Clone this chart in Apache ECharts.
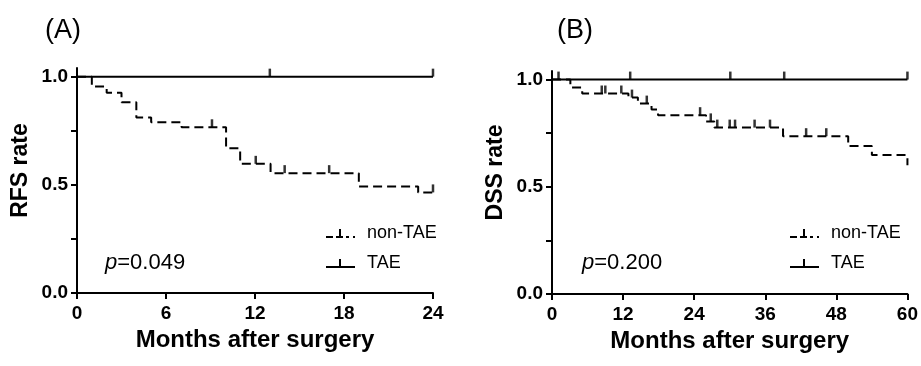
<!DOCTYPE html>
<html><head><meta charset="utf-8">
<script src="https://cdn.jsdelivr.net/npm/echarts@6/dist/echarts.min.js"></script>
<style>html,body{margin:0;padding:0;background:#fff}#c{width:921px;height:366px}</style>
</head><body><div id="c"></div>
<script>
// ---- Panel A: RFS (months 0-24)
const rfsTime = [0, 1.0, 2.0, 3.0, 4.0, 5.0, 7.05, 10.05, 11.0, 13.05, 19.0, 23.0, 24.0];
const rfsNonTAE = [1, 0.954, 0.926, 0.882, 0.811, 0.789, 0.766, 0.669, 0.597, 0.554, 0.492, 0.465, 0.465];
const rfsNonTAECensor = [9.1, 12.05, 14.0, 17.0, 24.0];
const rfsTAETime = [0, 24];
const rfsTAE = [1, 1];
const rfsTAECensor = [13.0, 24.0];
const rfsXTicks = [0, 6, 12, 18, 24];
// ---- Panel B: DSS (months 0-60)
const dssTime = [0, 3.1, 5.1, 12.9, 14.5, 16.8, 17.9, 26.0, 27.4, 39.0, 50.0, 54.0, 60.0];
const dssNonTAE = [1, 0.963, 0.935, 0.916, 0.888, 0.860, 0.834, 0.805, 0.776, 0.736, 0.690, 0.648, 0.601];
const dssNonTAECensor = [8.4, 9.0, 11.7, 13.5, 16.0, 25.0, 26.8, 27.9, 30.0, 30.9, 34.2, 36.8, 42.9, 46.3];
const dssTAETime = [0, 60];
const dssTAE = [1, 1];
const dssTAECensor = [1.1, 13.2, 30.1, 39.2, 60];
const dssXTicks = [0, 12, 24, 36, 48, 60];
const yTicks = [0, 0.25, 0.5, 0.75, 1.0];
const yLabels = [0, 0.5, 1.0];
const pValues = ['0.049', '0.200'];

function pairs(t, v) { return t.map((x, i) => [x, v[i]]); }
function stepAt(t, v, x) { let s = v[0]; for (let i = 0; i < t.length; i++) { if (t[i] <= x) s = v[i]; } return s; }
function censorPts(t, v, cs) { return cs.map(c => [c, stepAt(t, v, c)]); }

const dashIcon = 'path://M0,0L0,0ZM0,9L7,9L7,11L0,11ZM10,9L13,9L13,2L15,2L15,9L17,9L17,11L10,11ZM20,9L23,9L23,11L20,11ZM27,9L29,9L29,11L27,11ZM36,12L36,12Z';
const solidIcon = 'path://M0,0L0,0ZM0,9L13,9L13,2L15,2L15,9L29,9L29,11L0,11ZM36,12L36,12Z';

const black = '#000';
const FONT = 'Liberation Sans';
function xAxis(gi, max, interval) {
  return {
    gridIndex: gi, type: 'value', min: 0, max: max, interval: interval,
    axisLine: { show: true, onZero: false, lineStyle: { color: black, width: 2 } },
    axisTick: { show: true, length: 6, lineStyle: { color: black, width: 2 } },
    splitLine: { show: false },
    axisLabel: { color: black, fontFamily: FONT, fontWeight: 'bold', fontSize: 19, margin: 11 },
    name: 'Months after surgery', nameLocation: 'middle', nameGap: 34,
    nameTextStyle: { color: black, fontFamily: FONT, fontWeight: 'bold', fontSize: 24 }
  };
}
function yAxis(gi, name) {
  return {
    gridIndex: gi, type: 'value', min: 0, max: 1.04,
    axisLine: { show: true, onZero: false, lineStyle: { color: black, width: 2 } },
    axisTick: { show: true, length: 6, customValues: yTicks, lineStyle: { color: black, width: 2 } },
    splitLine: { show: false },
    axisLabel: { customValues: yLabels, formatter: v => v.toFixed(1), color: black, fontFamily: FONT, fontWeight: 'bold', fontSize: 19, margin: 9 },
    name: name, nameLocation: 'middle', nameRotate: 90, nameGap: 45,
    nameTextStyle: { color: black, fontFamily: FONT, fontWeight: 'bold', fontSize: 23, padding: [0, 0, 0, 20] }
  };
}
function curves(gi, tT, tV, tC, nT, nV, nC) {
  return [
    { name: 'TAE', type: 'line', xAxisIndex: gi, yAxisIndex: gi, data: pairs(tT, tV), symbol: 'none',
      lineStyle: { color: black, width: 2 }, itemStyle: { color: black }, z: 3 },
    { name: 'non-TAE', type: 'line', step: 'end', xAxisIndex: gi, yAxisIndex: gi, data: pairs(nT, nV), symbol: 'none',
      lineStyle: { color: black, width: 2, type: [9, 5] }, itemStyle: { color: black }, z: 2 },
    { name: 'TAE censored', type: 'scatter', xAxisIndex: gi, yAxisIndex: gi, data: censorPts(tT, tV, tC),
      symbol: 'rect', symbolSize: [2.5, 8], symbolOffset: [0, -4], itemStyle: { color: black }, z: 4 },
    { name: 'non-TAE censored', type: 'scatter', xAxisIndex: gi, yAxisIndex: gi, data: censorPts(nT, nV, nC),
      symbol: 'rect', symbolSize: [2.5, 8], symbolOffset: [0, -4], itemStyle: { color: black }, z: 4 }
  ];
}
function legend(left) {
  return {
    orient: 'vertical', left: left, top: 219, itemWidth: 36, itemHeight: 12, itemGap: 12,
    data: [{ name: 'non-TAE', icon: dashIcon }, { name: 'TAE', icon: solidIcon }],
    textStyle: { color: black, fontFamily: FONT, fontSize: 18 },
    selectedMode: false
  };
}
function pText(left, val) {
  return {
    type: 'text', left: left, top: 252,
    style: {
      text: '{i|p}{n|=' + val + '}', fill: black,
      rich: { i: { fontStyle: 'italic', fontSize: 22, fontFamily: FONT, fill: black },
              n: { fontSize: 22, fontFamily: FONT, fill: black } }
    }
  };
}

const chart = echarts.init(document.getElementById('c'), null, { renderer: 'canvas' });
chart.setOption({
  animation: false,
  backgroundColor: '#fff',
  title: [
    { text: '(A)', left: 40, top: 12, textStyle: { fontSize: 27, fontWeight: 'normal', color: black, fontFamily: FONT } },
    { text: '(B)', left: 552, top: 12, textStyle: { fontSize: 27, fontWeight: 'normal', color: black, fontFamily: FONT } }
  ],
  grid: [
    { left: 77, right: 488, top: 68, bottom: 73, containLabel: false },
    { left: 552, right: 13, top: 71, bottom: 72, containLabel: false }
  ],
  xAxis: [xAxis(0, 24, 6), xAxis(1, 60, 12)],
  yAxis: [yAxis(0, 'RFS rate'), yAxis(1, 'DSS rate')],
  legend: [legend(321), legend(785)],
  graphic: [pText(105, pValues[0]), pText(582, pValues[1])],
  series: [].concat(
    curves(0, rfsTAETime, rfsTAE, rfsTAECensor, rfsTime, rfsNonTAE, rfsNonTAECensor),
    curves(1, dssTAETime, dssTAE, dssTAECensor, dssTime, dssNonTAE, dssNonTAECensor)
  )
});
</script>
</body></html>
